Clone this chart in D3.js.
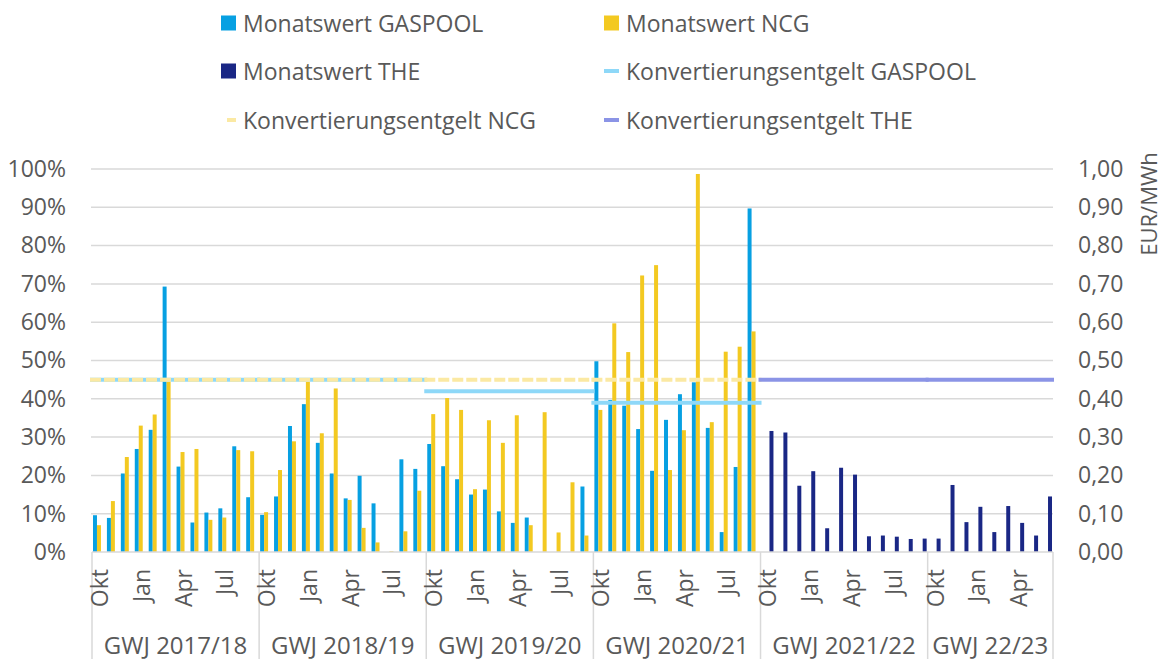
<!DOCTYPE html>
<html><head><meta charset="utf-8">
<script src="https://cdn.jsdelivr.net/npm/d3@7"></script>
<style>
body{margin:0;background:#fff;}
svg{display:block;font-family:"Open Sans",sans-serif;}
</style></head>
<body><svg id="c" width="1163" height="659"></svg>
<script>
const years = ["GWJ 2017/18","GWJ 2018/19","GWJ 2019/20","GWJ 2020/21","GWJ 2021/22","GWJ 22/23"];
const monthNames = ["Okt","Nov","Dez","Jan","Feb","Mär","Apr","Mai","Jun","Jul","Aug","Sep"];
const monthsPerYear = [12,12,12,12,12,9];
const shownMonths = ["Okt","Jan","Apr","Jul"];

// Monatswerte in %
const gaspool = [
  9.6, 8.9, 20.5, 26.9, 31.9, 69.3, 22.3, 7.7, 10.3, 11.4, 27.6, 14.3,
  9.7, 14.5, 32.9, 38.6, 28.5, 20.5, 14.0, 19.9, 12.7, null, 24.2, 21.7,
  28.2, 22.4, 19.0, 15.0, 16.3, 10.6, 7.6, 9.0, null, null, null, 17.1,
  49.8, 39.7, 38.2, 32.1, 21.2, 34.5, 41.2, 44.3, 32.4, 5.2, 22.2, 89.7
];
const ncg = [
  7.0, 13.3, 24.8, 33.0, 35.9, 44.5, 26.1, 26.9, 8.4, 9.0, 26.6, 26.3,
  10.4, 21.4, 28.9, 44.5, 31.0, 42.7, 13.6, 6.3, 2.5, 0.2, 5.4, 16.0,
  36.0, 40.2, 37.1, 16.4, 34.4, 28.5, 35.7, 7.0, 36.5, 5.1, 18.2, 4.3,
  37.1, 59.7, 52.2, 72.2, 74.9, 21.4, 31.8, 98.7, 33.9, 52.3, 53.6, 57.6
];
const the = [
  31.6, 31.2, 17.3, 21.1, 6.2, 22.0, 20.2, 4.1, 4.3, 4.0, 3.4, 3.5,
  3.5, 17.5, 7.8, 11.8, 5.2, 12.0, 7.6, 4.3, 14.5
];
const theStartYear = 4;

// Konvertierungsentgelt EUR/MWh je GWJ
const feeGaspool = [0.45, 0.45, 0.42, 0.39, null, null];
const feeNcg     = [0.45, 0.45, 0.45, 0.45, null, null];
const feeThe     = [null, null, null, null, 0.45, 0.45];

const leftTicks = [0,10,20,30,40,50,60,70,80,90,100];
const rightTicks = [0,0.1,0.2,0.3,0.4,0.5,0.6,0.7,0.8,0.9,1.0];

(function(){
const months = [];
years.forEach((yn, yi) => {
  for (let m = 0; m < monthsPerYear[yi]; m++) months.push({id: yi + "-" + m, year: yi, name: monthNames[m]});
});
const theOffset = monthsPerYear.slice(0, theStartYear).reduce((a,b)=>a+b,0);
months.forEach((d, i) => {
  d.GASPOOL = i < gaspool.length ? gaspool[i] : null;
  d.NCG = i < ncg.length ? ncg[i] : null;
  d.THE = i >= theOffset ? the[i - theOffset] : null;
});

const svg = d3.select("#c");
const textColor = "#595959";
const grid = "#d9d9d9";
const fs = "23px";
const pL = 92, pR = 1053, pT = 169, pB = 552;

const x = d3.scaleBand().domain(months.map(d=>d.id)).range([pL, pR]).paddingInner(0).paddingOuter(0);
const series = ["GASPOOL","NCG","THE"];
const xs = d3.scaleBand().domain(series).range([0, x.bandwidth()]).paddingInner(0).paddingOuter(0.25);
const y = d3.scaleLinear().domain([0,100]).range([pB, pT]);
const y2 = d3.scaleLinear().domain([0,1]).range([pB, pT]);
const colors = {GASPOOL:"#07a0e2", NCG:"#f3c921", THE:"#1a2785"};
const lineColors = {GASPOOL:"#8ed8f8", NCG:"#fbe9a3", THE:"#8b94e6"};

svg.append("g").selectAll("line").data(leftTicks.slice(1)).join("line")
  .attr("x1", pL-1).attr("x2", pR).attr("y1", d=>y(d)).attr("y2", d=>y(d))
  .attr("stroke", grid).attr("stroke-width", 1.5);

const la = svg.append("g").attr("transform", `translate(${pL},0)`)
  .call(d3.axisLeft(y).tickValues(leftTicks).tickFormat(d=>d+"%").tickSize(0).tickPadding(26));
la.select(".domain").remove();
la.selectAll("text").attr("fill", textColor).style("font-size",fs).style("font-family","Open Sans");

const ra = svg.append("g").attr("transform", `translate(${pR},0)`)
  .call(d3.axisRight(y2).tickValues(rightTicks).tickFormat(d=>d3.format(".2f")(d).replace(".",",")).tickSize(0).tickPadding(25));
ra.select(".domain").remove();
ra.selectAll("text").attr("fill", textColor).style("font-size",fs).style("font-family","Open Sans");

svg.append("text").attr("transform", `translate(1148,204) rotate(-90)`)
  .attr("text-anchor","middle").attr("dominant-baseline","central")
  .attr("fill", textColor).style("font-size","22px").text("EUR/MWh");

series.forEach(s => {
  svg.append("g").selectAll("rect").data(months.filter(d=>d[s]!=null)).join("rect")
    .attr("x", d=>x(d.id)+xs(s)).attr("width", xs.bandwidth())
    .attr("y", d=>y(d[s])).attr("height", d=>pB - y(d[s]))
    .attr("fill", colors[s]);
});

svg.append("line").attr("x1", pL).attr("x2", pR).attr("y1", pB).attr("y2", pB)
  .attr("stroke", grid).attr("stroke-width", 1.5);
const yearStarts = [];
let acc = 0;
years.forEach((yname, yi) => {
  const first = months[acc], last = months[acc + monthsPerYear[yi] - 1];
  yearStarts.push({name: yname, yi, x0: x(first.id), x1: x(last.id) + x.bandwidth()});
  acc += monthsPerYear[yi];
});
const seps = yearStarts.map(d=>d.x0).concat([pR]);
svg.append("g").selectAll("line").data(seps).join("line")
  .attr("x1", d=>d).attr("x2", d=>d).attr("y1", pB).attr("y2", 659)
  .attr("stroke", grid).attr("stroke-width", 1.5);

svg.append("g").selectAll("text").data(months.filter(d=>shownMonths.includes(d.name))).join("text")
  .attr("transform", d=>`translate(${x(d.id)+x.bandwidth()/2},${pB+17}) rotate(-90)`)
  .attr("text-anchor","end").attr("dominant-baseline","central")
  .attr("fill", textColor).style("font-size",fs).text(d=>d.name);

svg.append("g").selectAll("text").data(yearStarts).join("text")
  .attr("x", d=>(d.x0+d.x1)/2).attr("y", 644)
  .attr("text-anchor","middle").attr("dominant-baseline","central")
  .attr("fill", textColor).style("font-size","24px").text(d=>d.name);

function feeSegs(arr){ return yearStarts.filter(d=>arr[d.yi]!=null).map(d=>({x0:d.x0, x1:d.x1, v:arr[d.yi]})); }
const lineGen = d3.line().x(p=>p[0]).y(p=>p[1]);
function drawFee(arr, color, dash){
  svg.append("g").selectAll("path").data(feeSegs(arr)).join("path")
    .attr("d", d=>lineGen([[d.x0-2, y2(d.v)],[d.x1+1, y2(d.v)]]))
    .attr("stroke", color).attr("stroke-width", 4).attr("fill","none")
    .attr("stroke-dasharray", dash || null);
}
drawFee(feeGaspool, lineColors.GASPOOL);
drawFee(feeNcg, lineColors.NCG, "11,3");
drawFee(feeThe, lineColors.THE);

const legend = [
  {label:"Monatswert GASPOOL", type:"rect", color:colors.GASPOOL, col:0, row:0},
  {label:"Monatswert NCG", type:"rect", color:colors.NCG, col:1, row:0},
  {label:"Monatswert THE", type:"rect", color:colors.THE, col:0, row:1},
  {label:"Konvertierungsentgelt GASPOOL", type:"line", color:lineColors.GASPOOL, col:1, row:1},
  {label:"Konvertierungsentgelt NCG", type:"dash", color:lineColors.NCG, col:0, row:2},
  {label:"Konvertierungsentgelt THE", type:"line", color:lineColors.THE, col:1, row:2}
];
const colX = [221, 604], rowY = [23, 71, 120];
const lg = svg.append("g").selectAll("g").data(legend).join("g")
  .attr("transform", d=>`translate(${colX[d.col]},${rowY[d.row]})`);
lg.filter(d=>d.type==="rect").append("rect").attr("x",0).attr("y",-7.5).attr("width",15).attr("height",15).attr("fill",d=>d.color);
lg.filter(d=>d.type==="line").append("line").attr("x1",0).attr("x2",15).attr("y1",0).attr("y2",0).attr("stroke",d=>d.color).attr("stroke-width",4);
lg.filter(d=>d.type==="dash").append("line").attr("x1",6).attr("x2",15).attr("y1",0).attr("y2",0).attr("stroke",d=>d.color).attr("stroke-width",4);
lg.append("text").attr("x",22).attr("y",0).attr("dominant-baseline","central")
  .attr("fill",textColor).style("font-size",fs).text(d=>d.label);
})();
</script></body></html>
